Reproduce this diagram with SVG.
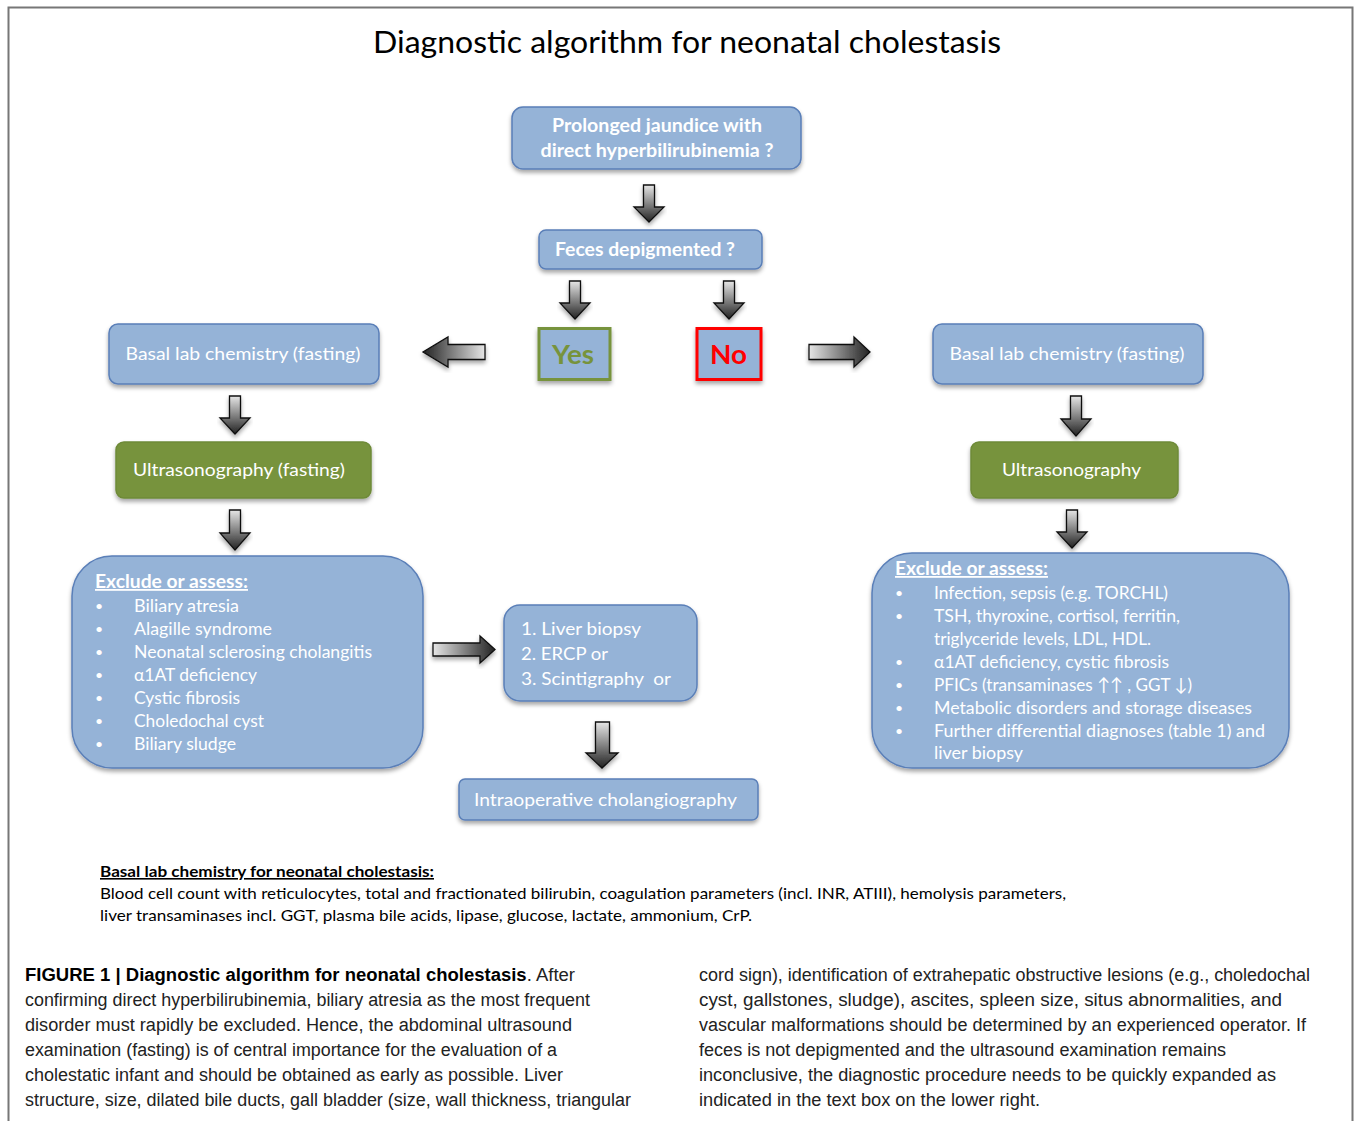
<svg xmlns="http://www.w3.org/2000/svg" width="1354" height="1121" viewBox="0 0 1354 1121">
<defs>
<filter id="sh" x="-10%" y="-10%" width="120%" height="130%">
<feDropShadow dx="0" dy="3" stdDeviation="2" flood-color="#000" flood-opacity="0.35"/>
</filter>
<linearGradient id="gDown" x1="0" y1="0" x2="0" y2="1"><stop offset="0" stop-color="#e6e6e6"/><stop offset="1" stop-color="#222"/></linearGradient>
<linearGradient id="gLeft" x1="1" y1="0" x2="0" y2="0"><stop offset="0" stop-color="#e6e6e6"/><stop offset="1" stop-color="#222"/></linearGradient>
<linearGradient id="gRight" x1="0" y1="0" x2="1" y2="0"><stop offset="0" stop-color="#e6e6e6"/><stop offset="1" stop-color="#222"/></linearGradient>
</defs>
<style>
.box{fill:#95B3D7;stroke:#5A7FB8;stroke-width:1.5;filter:url(#sh)}
.gbox{fill:#77933C;stroke:#6E8A38;stroke-width:1.5;filter:url(#sh)}
.t{font-family:Lato,"Open Sans",sans-serif;fill:#fff;font-size:18px}
.tb{font-family:Lato,"Open Sans",sans-serif;fill:#fff;font-size:19px;font-weight:bold}
.c{text-anchor:middle}
.h{font-weight:bold;text-decoration:underline}
.arr{stroke:#111;stroke-width:1.3;filter:url(#sh)}
.note{font-family:Lato,"Open Sans",sans-serif;fill:#000;font-size:16px}
.cap{font-family:"Liberation Sans",Arial,sans-serif;fill:#222;font-size:18px}
.frame{stroke:#777;stroke-width:2;fill:none}
</style>
<rect width="1354" height="1121" fill="#fff"/>
<path class="frame" d="M8.5,1121 V7.5 H1352.5 V1121"/>
<text x="687" y="53" class="c" font-family="Lato,'Open Sans',sans-serif" font-size="31" fill="#000" textLength="628" lengthAdjust="spacingAndGlyphs">Diagnostic algorithm for neonatal cholestasis</text>

<g id="connectors">
<path class="arr" fill="url(#gDown)" d="M643.5,185 H654.5 V207 H664 L649,222 L634,207 H643.5 Z"/>
<path class="arr" fill="url(#gDown)" d="M569.5,281 H580.5 V303 H590 L575,319 L560,303 H569.5 Z"/>
<path class="arr" fill="url(#gDown)" d="M723.5,281 H734.5 V303 H744 L729,319 L714,303 H723.5 Z"/>
<path class="arr" fill="url(#gLeft)" d="M485,344.5 V359.5 H448 V367 L423,352 L448,337 V344.5 Z"/>
<path class="arr" fill="url(#gRight)" d="M809,344.5 V359.5 H854 V367 L870,352 L854,337 V344.5 Z"/>
<path class="arr" fill="url(#gDown)" d="M229.5,396 H240.5 V418 H250 L235,434 L220,418 H229.5 Z"/>
<path class="arr" fill="url(#gDown)" d="M1070.5,396 H1081.5 V419 H1091 L1076,436 L1061,419 H1070.5 Z"/>
<path class="arr" fill="url(#gDown)" d="M229.5,510 H240.5 V533 H250 L235,550 L220,533 H229.5 Z"/>
<path class="arr" fill="url(#gDown)" d="M1066.5,510 H1077.5 V532 H1087 L1072,548 L1057,532 H1066.5 Z"/>
<path class="arr" fill="url(#gRight)" d="M433,643 V656 H480 V663 L495,649.5 L480,636 V643 Z"/>
<path class="arr" fill="url(#gDown)" d="M595.5,722 H609.5 V753 H618 L602,768 L586,753 H595.5 Z"/>
</g>

<g id="n-jaundice">
<rect class="box" x="512" y="107" width="289" height="62" rx="11"/>
<text class="tb c" x="657" y="132" textLength="210" lengthAdjust="spacingAndGlyphs">Prolonged jaundice with</text>
<text class="tb c" x="657" y="157" textLength="233" lengthAdjust="spacingAndGlyphs">direct hyperbilirubinemia ?</text>
</g>
<g id="n-feces">
<rect class="box" x="539" y="230" width="223" height="39" rx="7"/>
<text class="tb c" x="645" y="256" textLength="180" lengthAdjust="spacingAndGlyphs">Feces depigmented ?</text>
</g>
<g id="n-yes">
<rect x="539" y="328.5" width="71" height="51" fill="#95B3D7" stroke="#77933C" stroke-width="3" filter="url(#sh)"/>
<text x="573" y="364" class="c" font-family="Lato,'Open Sans',sans-serif" font-size="27" font-weight="bold" fill="#77933C" textLength="42" lengthAdjust="spacingAndGlyphs">Yes</text>
</g>
<g id="n-no">
<rect x="697" y="328.5" width="64" height="51" fill="#95B3D7" stroke="#FF0000" stroke-width="3" filter="url(#sh)"/>
<text x="728.5" y="364" class="c" font-family="Lato,'Open Sans',sans-serif" font-size="27" font-weight="bold" fill="#FF0000" textLength="37" lengthAdjust="spacingAndGlyphs">No</text>
</g>
<g id="n-basal-left">
<rect class="box" x="109" y="324" width="270" height="60" rx="9"/>
<text class="t c" x="243" y="360" textLength="235" lengthAdjust="spacingAndGlyphs">Basal lab chemistry (fasting)</text>
</g>
<g id="n-basal-right">
<rect class="box" x="933" y="324" width="270" height="60" rx="9"/>
<text class="t c" x="1067" y="360" textLength="235" lengthAdjust="spacingAndGlyphs">Basal lab chemistry (fasting)</text>
</g>
<g id="n-us-left">
<rect class="gbox" x="116" y="442" width="255" height="56" rx="8"/>
<text class="t c" x="239" y="476" textLength="212" lengthAdjust="spacingAndGlyphs">Ultrasonography (fasting)</text>
</g>
<g id="n-us-right">
<rect class="gbox" x="971" y="442" width="207" height="56" rx="8"/>
<text class="t c" x="1071.5" y="476" textLength="139" lengthAdjust="spacingAndGlyphs">Ultrasonography</text>
</g>
<g id="n-exclude-left">
<rect class="box" x="72" y="556" width="351" height="212" rx="40"/>
<text class="t h" x="95" y="588" textLength="153" lengthAdjust="spacingAndGlyphs">Exclude or assess:</text>
<g class="t">
<text x="95" y="611" font-size="14">•</text><text x="134" y="612" textLength="105" lengthAdjust="spacingAndGlyphs">Biliary atresia</text>
<text x="95" y="634" font-size="14">•</text><text x="134" y="635" textLength="138" lengthAdjust="spacingAndGlyphs">Alagille syndrome</text>
<text x="95" y="657" font-size="14">•</text><text x="134" y="658" textLength="238" lengthAdjust="spacingAndGlyphs">Neonatal sclerosing cholangitis</text>
<text x="95" y="680" font-size="14">•</text><text x="134" y="681" textLength="123" lengthAdjust="spacingAndGlyphs">α1AT deficiency</text>
<text x="95" y="703" font-size="14">•</text><text x="134" y="704" textLength="106" lengthAdjust="spacingAndGlyphs">Cystic fibrosis</text>
<text x="95" y="726" font-size="14">•</text><text x="134" y="727" textLength="130" lengthAdjust="spacingAndGlyphs">Choledochal cyst</text>
<text x="95" y="749" font-size="14">•</text><text x="134" y="750" textLength="102" lengthAdjust="spacingAndGlyphs">Biliary sludge</text>
</g>
</g>
<g id="n-exclude-right">
<rect class="box" x="872" y="553" width="417" height="215" rx="40"/>
<text class="t h" x="895" y="575" textLength="153" lengthAdjust="spacingAndGlyphs">Exclude or assess:</text>
<g class="t">
<text x="895" y="598" font-size="14">•</text><text x="934" y="599" textLength="234" lengthAdjust="spacingAndGlyphs">Infection, sepsis (e.g. TORCHL)</text>
<text x="895" y="621" font-size="14">•</text><text x="934" y="622" textLength="246" lengthAdjust="spacingAndGlyphs">TSH, thyroxine, cortisol, ferritin,</text>
<text x="934" y="645" textLength="217" lengthAdjust="spacingAndGlyphs">triglyceride levels, LDL, HDL.</text>
<text x="895" y="667" font-size="14">•</text><text x="934" y="668" textLength="235" lengthAdjust="spacingAndGlyphs">α1AT deficiency, cystic fibrosis</text>
<text x="895" y="690" font-size="14">•</text><text x="934" y="691" textLength="258" lengthAdjust="spacingAndGlyphs">PFICs (transaminases ↑↑ , GGT ↓)</text>
<text x="895" y="713" font-size="14">•</text><text x="934" y="714" textLength="318" lengthAdjust="spacingAndGlyphs">Metabolic disorders and storage diseases</text>
<text x="895" y="736" font-size="14">•</text><text x="934" y="737" textLength="331" lengthAdjust="spacingAndGlyphs">Further differential diagnoses (table 1) and</text>
<text x="934" y="759" textLength="89" lengthAdjust="spacingAndGlyphs">liver biopsy</text>
</g>
</g>
<g id="n-options">
<rect class="box" x="504" y="605" width="193" height="96" rx="16"/>
<text class="t" x="521" y="635" textLength="120" lengthAdjust="spacingAndGlyphs">1. Liver biopsy</text>
<text class="t" x="521" y="660" textLength="87" lengthAdjust="spacingAndGlyphs">2. ERCP or</text>
<text class="t" x="521" y="685" textLength="150" lengthAdjust="spacingAndGlyphs" xml:space="preserve">3. Scintigraphy  or</text>
</g>
<g id="n-intraop">
<rect class="box" x="459" y="779" width="299" height="41" rx="6"/>
<text class="t c" x="605.5" y="806" textLength="263" lengthAdjust="spacingAndGlyphs">Intraoperative cholangiography</text>
</g>

<g id="note">
<text class="note h" x="100" y="877" textLength="334" lengthAdjust="spacingAndGlyphs">Basal lab chemistry for neonatal cholestasis:</text>
<text class="note" x="100" y="899" textLength="966" lengthAdjust="spacingAndGlyphs">Blood cell count with reticulocytes, total and fractionated bilirubin, coagulation parameters (incl. INR, ATIII), hemolysis parameters,</text>
<text class="note" x="100" y="921" textLength="652" lengthAdjust="spacingAndGlyphs">liver transaminases incl. GGT, plasma bile acids, lipase, glucose, lactate, ammonium, CrP.</text>
</g>

<g id="caption">
<text class="cap" x="25" y="981" textLength="550" lengthAdjust="spacingAndGlyphs"><tspan font-weight="bold" fill="#000">FIGURE 1 | Diagnostic algorithm for neonatal cholestasis</tspan>. After</text>
<text class="cap" x="25" y="1006" textLength="565" lengthAdjust="spacingAndGlyphs">confirming direct hyperbilirubinemia, biliary atresia as the most frequent</text>
<text class="cap" x="25" y="1031" textLength="547" lengthAdjust="spacingAndGlyphs">disorder must rapidly be excluded. Hence, the abdominal ultrasound</text>
<text class="cap" x="25" y="1056" textLength="532" lengthAdjust="spacingAndGlyphs">examination (fasting) is of central importance for the evaluation of a</text>
<text class="cap" x="25" y="1081" textLength="538" lengthAdjust="spacingAndGlyphs">cholestatic infant and should be obtained as early as possible. Liver</text>
<text class="cap" x="25" y="1106" textLength="606" lengthAdjust="spacingAndGlyphs">structure, size, dilated bile ducts, gall bladder (size, wall thickness, triangular</text>
<text class="cap" x="699" y="981" textLength="611" lengthAdjust="spacingAndGlyphs">cord sign), identification of extrahepatic obstructive lesions (e.g., choledochal</text>
<text class="cap" x="699" y="1006" textLength="583" lengthAdjust="spacingAndGlyphs">cyst, gallstones, sludge), ascites, spleen size, situs abnormalities, and</text>
<text class="cap" x="699" y="1031" textLength="607" lengthAdjust="spacingAndGlyphs">vascular malformations should be determined by an experienced operator. If</text>
<text class="cap" x="699" y="1056" textLength="527" lengthAdjust="spacingAndGlyphs">feces is not depigmented and the ultrasound examination remains</text>
<text class="cap" x="699" y="1081" textLength="577" lengthAdjust="spacingAndGlyphs">inconclusive, the diagnostic procedure needs to be quickly expanded as</text>
<text class="cap" x="699" y="1106" textLength="341" lengthAdjust="spacingAndGlyphs">indicated in the text box on the lower right.</text>
</g>
</svg>
